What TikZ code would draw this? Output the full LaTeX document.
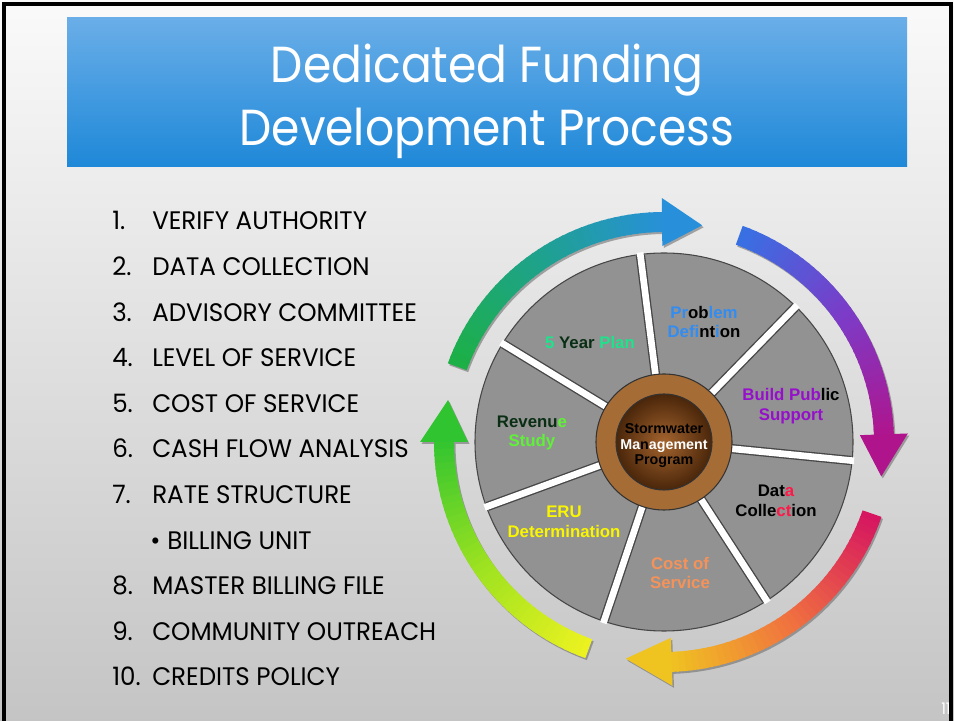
\documentclass[tikz,border=0pt]{standalone}
\usepackage{fontspec}
\setmainfont{Poppins}[FakeStretch=0.90]
\newfontfamily\listfont{Poppins}[FakeStretch=0.97]
\newfontfamily\arialfont{Liberation Sans}
\usetikzlibrary{positioning}
\definecolor{bannertop}{RGB}{106,174,232}
\definecolor{bannerbot}{RGB}{30,136,216}
\definecolor{segfill}{RGB}{146,146,146}
\definecolor{segline}{RGB}{70,70,70}
\definecolor{ringbrown}{RGB}{166,108,54}
\definecolor{corelight}{RGB}{164,100,46}
\definecolor{coredark}{RGB}{74,38,10}
\definecolor{springc}{RGB}{30,226,140}
\definecolor{darkgreen}{RGB}{10,46,20}
\definecolor{blueletter}{RGB}{51,140,240}
\definecolor{purpleletter}{RGB}{150,16,204}
\definecolor{redletter}{RGB}{255,24,72}
\definecolor{orangeletter}{RGB}{244,146,90}
\definecolor{yellowletter}{RGB}{250,245,0}
\definecolor{limeletter}{RGB}{96,240,58}
\definecolor{arrowgreen}{RGB}{28,176,70}
\definecolor{arrowteal}{RGB}{30,162,140}
\definecolor{arrowblue}{RGB}{40,144,218}
\definecolor{arrowsky}{RGB}{56,112,228}
\definecolor{arrowviolet}{RGB}{124,60,200}
\definecolor{arrowmagenta}{RGB}{176,20,140}
\definecolor{arrowcrimson}{RGB}{214,22,96}
\definecolor{arroworange}{RGB}{240,112,64}
\definecolor{arrowamber}{RGB}{240,196,32}
\definecolor{arrowyellow}{RGB}{236,242,32}
\definecolor{arrowlime}{RGB}{156,226,32}
\definecolor{arrowleaf}{RGB}{48,196,48}

\begin{document}
\begin{tikzpicture}[x=0.75pt,y=0.75pt,
  titletext/.style={anchor=base,text=white,font=\fontsize{38}{46}\selectfont,inner sep=0pt},
  listtext/.style={anchor=base west,font=\listfont\fontsize{19}{22}\selectfont,inner sep=0pt},
  seglabel/.style={align=center,font=\arialfont\bfseries\fontsize{12.6}{14.6}\selectfont,inner sep=0pt},
  hublabel/.style={align=center,font=\arialfont\bfseries\fontsize{10.7}{11.6}\selectfont,inner sep=0pt},
]
\useasboundingbox (0,0) rectangle (954,721);
% slide background and frame
\shade[top color=white!98!black,middle color=white!93!black,bottom color=white!77!black] (0,0) rectangle (954,721);
\draw[line width=2.5] (4,0) -- (4,717) -- (951,717) -- (951,0);
% title banner
\shade[top color=bannertop,bottom color=bannerbot] (67,554) rectangle (907,703);
\node[titletext] (title1) at (487,638) {Dedicated Funding};
\node[titletext] (title2) at (487,575) {Development Process};
% numbered steps
\foreach \k/\n/\t in {0/1./VERIFY AUTHORITY,1/2./DATA COLLECTION,2/3./ADVISORY COMMITTEE,
  3/4./LEVEL OF SERVICE,4/5./COST OF SERVICE,5/6./CASH FLOW ANALYSIS,6/7./RATE STRUCTURE,
  8/8./MASTER BILLING FILE,9/9./COMMUNITY OUTREACH,10/10./CREDITS POLICY}{
  \node[listtext] (num\k) at (112,{491-45.6*\k}) {\n};
  \node[listtext] (item\k) at (152,{491-45.6*\k}) {\t};
}
\node[listtext] (bullet7) at (150,{491-45.6*7}) {\textbullet};
\node[listtext] (item7) at (167,{491-45.6*7}) {BILLING UNIT};
% process wheel
\begin{scope}[shift={(664,279)}]
  % cycle arrows
  \foreach \a/\b/\c/\ca/\cb/\cc in {160/90.5/80/arrowgreen/arrowteal/arrowblue,
    70/2/-9/arrowsky/arrowviolet/arrowmagenta,
    -19/-88/-100/arrowcrimson/arroworange/arrowamber,
    -110/-180/-191/arrowyellow/arrowlime/arrowleaf}{
    \fill[black!60,opacity=0.55,shift={(1.5,-2)}] (\a:210) arc[start angle=\a,end angle=\b,radius=210]
      -- (\b:196) -- (\c:220) -- (\b:244) -- (\b:230) arc[start angle=\b,end angle=\a,radius=230] -- cycle;
    \foreach \i in {0,...,39}{
      \pgfmathsetmacro\ta{\a+(\b-\a)*\i/40}
      \pgfmathsetmacro\tb{\a+(\b-\a)*(\i+1.3)/40}
      \pgfmathtruncatemacro\pa{min(100,5*\i)}
      \pgfmathtruncatemacro\pq{100-max(0,5*\i-100)}
      \fill[\cb!\pa!\ca!\pq!\cc] (\ta:210) arc[start angle=\ta,end angle=\tb,radius=210]
        -- (\tb:230) arc[start angle=\tb,end angle=\ta,radius=230] -- cycle;
    }
    \fill[\cc] (\b:196) -- (\c:220) -- (\b:244) -- cycle;
  }
  % segments
  \filldraw[fill=segfill,draw=segline,line width=0.8] (0,0) circle (189);
  \foreach \k in {0,...,6}{
    \draw[segline,line width=7] ({97.2-51.43*\k}:66) -- ({97.2-51.43*\k}:188);
    \draw[white,line width=5] ({97.2-51.43*\k}:66) -- ({97.2-51.43*\k}:191);
  }
  % hub
  \filldraw[fill=ringbrown,draw=black!80,line width=0.8] (0,0) circle (68);
  \shade[inner color=corelight,outer color=coredark] (0,0) circle (48);
  \draw[black!80,line width=0.8] (0,0) circle (48);
  \node[hublabel] (hub) at (0,-4) {Stormwater\\\textcolor{white}{Ma}n\textcolor{white}{agement}\\Program};
  % segment labels
  \node[seglabel] (plan) at (-74,99) {\textcolor{springc}{5} \textcolor{darkgreen}{Year} \textcolor{springc}{Plan}};
  \node[seglabel] (problem) at (40,120) {\textcolor{blueletter}{Pr}ob\textcolor{blueletter}{lem}\\
    \textcolor{blueletter}{Defi}nt\textcolor{blueletter}{i}on};
  \node[seglabel] (support) at (127,36) {\textcolor{purpleletter}{Build Pub}lic\\\textcolor{purpleletter}{Support}};
  \node[seglabel] (datacoll) at (112,-59) {Dat\textcolor{redletter}{a}\\Colle\textcolor{redletter}{ct}ion};
  \node[seglabel,text=orangeletter] (cost) at (16,-131) {Cost of\\Service};
  \node[seglabel,text=yellowletter] (eru) at (-100,-80) {ERU\\Determination};
  \node[seglabel] (revenue) at (-132,9) {\textcolor{darkgreen}{Revenu}\textcolor{limeletter}{e}\\\textcolor{limeletter}{Study}};
\end{scope}
% slide number
\node[anchor=west,text=white,font=\fontsize{12}{13}\selectfont,inner sep=0pt] (slideno) at (941,12) {11};
\end{tikzpicture}
\end{document}
